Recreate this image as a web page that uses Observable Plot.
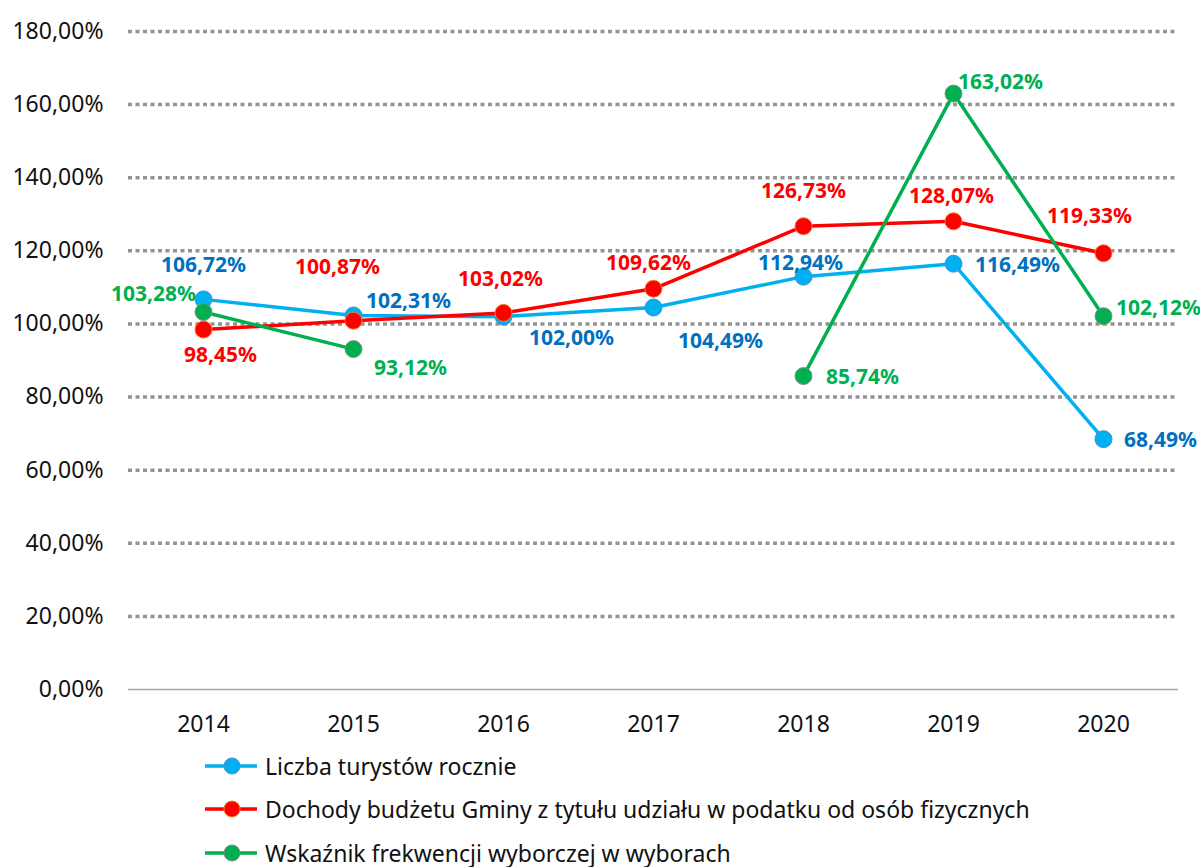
<!DOCTYPE html>
<html><head><meta charset="utf-8">
<script src="https://cdn.jsdelivr.net/npm/d3@7"></script>
<script src="https://cdn.jsdelivr.net/npm/@observablehq/plot@0.6"></script>
<style>
body{margin:0;background:#fff;font-family:"Noto Sans",sans-serif}
#legend{position:relative;margin:0;}
.row{display:flex;align-items:center;height:43.5px;padding-left:205px;font-size:23px;color:#111;}
.row svg{margin-right:8px}
</style>
</head><body><div id="chart"></div><div id="legend"></div>
<script>
const years = ["2014","2015","2016","2017","2018","2019","2020"];
const tourists = [106.72, 102.31, 102.00, 104.49, 112.94, 116.49, 68.49];
const revenue = [98.45, 100.87, 103.02, 109.62, 126.73, 128.07, 119.33];
const turnout = [103.28, 93.12, null, null, 85.74, 163.02, 102.12];
const seriesNames = [
  "Liczba turystów rocznie",
  "Dochody budżetu Gminy z tytułu udziału w podatku od osób fizycznych",
  "Wskaźnik frekwencji wyborczej w wyborach"
];
const yTicks = [0,20,40,60,80,100,120,140,160,180];

// styling / layout (not data)
const styles = [
  {line:"#00B0F0", dot:"#00B0F0", dotStroke:"#4A90C8", label:"#0070C0"},
  {line:"#FF0000", dot:"#FF0000", dotStroke:"#ED7D31", label:"#FF0000"},
  {line:"#00B050", dot:"#00B050", dotStroke:"#8C8C8C", label:"#00B050"}
];
const labelOffsets = [
  [[0,-34],[55,-14],[68,22],[67,34],[-3,-13],[64,2],[57,1]],
  [[17,26],[-16,-53],[-3,-34],[-5,-26],[0,-35],[-2,-25],[-14,-37]],
  [[-50,-18],[57,19],[0,0],[0,0],[59,1],[47,-11],[55,-8]]
];

const values = [tourists, revenue, turnout];
const fmt = v => v.toFixed(2).replace(".", ",") + "%";

const marks = [
  Plot.ruleY(yTicks.filter(d => d > 0), {stroke:"#939393", strokeWidth:3.5, strokeDasharray:"4,3.5"}),
  Plot.ruleY([0], {stroke:"#a6a6a6", strokeWidth:1.5})
];
values.forEach((vals, s) => {
  const data = years.map((y, i) => ({year:y, value: vals[i] == null ? NaN : vals[i]}));
  marks.push(Plot.line(data, {x:"year", y:"value", stroke:styles[s].line, strokeWidth:3.5}));
});
values.forEach((vals, s) => {
  const data = years.map((y, i) => ({year:y, value:vals[i]})).filter(d => d.value != null);
  marks.push(Plot.dot(data, {x:"year", y:"value", r:8.5, fill:styles[s].dot, stroke:styles[s].dotStroke, strokeWidth:1}));
});
values.forEach((vals, s) => {
  years.forEach((y, i) => {
    if (vals[i] == null) return;
    const [dx, dy] = labelOffsets[s][i];
    marks.push(Plot.text([{year:y, value:vals[i]}], {
      x:"year", y:"value", text: d => fmt(d.value), dx, dy,
      fill:styles[s].label, fontWeight:"bold", fontSize:21
    }));
  });
});

const chart = Plot.plot({
  width:1200, height:740,
  marginTop:31, marginBottom:51, marginLeft:128, marginRight:22,
  style:{fontFamily:"Noto Sans", fontSize:"23px", color:"#111", background:"#fff", overflow:"visible"},
  x:{type:"point", domain:years, padding:0.5, label:null, tickSize:0, tickPadding:26},
  y:{domain:[0,180], ticks:yTicks, tickFormat:fmt, label:null, tickSize:0, tickPadding:25},
  marks
});
document.getElementById("chart").appendChild(chart);

const legend = d3.select("#legend").style("padding-top","4px");
seriesNames.forEach((name, s) => {
  const row = legend.append("div").attr("class","row");
  const svg = row.append("svg").attr("width",52).attr("height",20);
  svg.append("line").attr("x1",0).attr("x2",52).attr("y1",10).attr("y2",10)
    .attr("stroke",styles[s].line).attr("stroke-width",3.5);
  svg.append("circle").attr("cx",27).attr("cy",10).attr("r",8)
    .attr("fill",styles[s].dot).attr("stroke",styles[s].dotStroke).attr("stroke-width",1);
  row.append("span").text(name);
});
</script>
</body></html>
